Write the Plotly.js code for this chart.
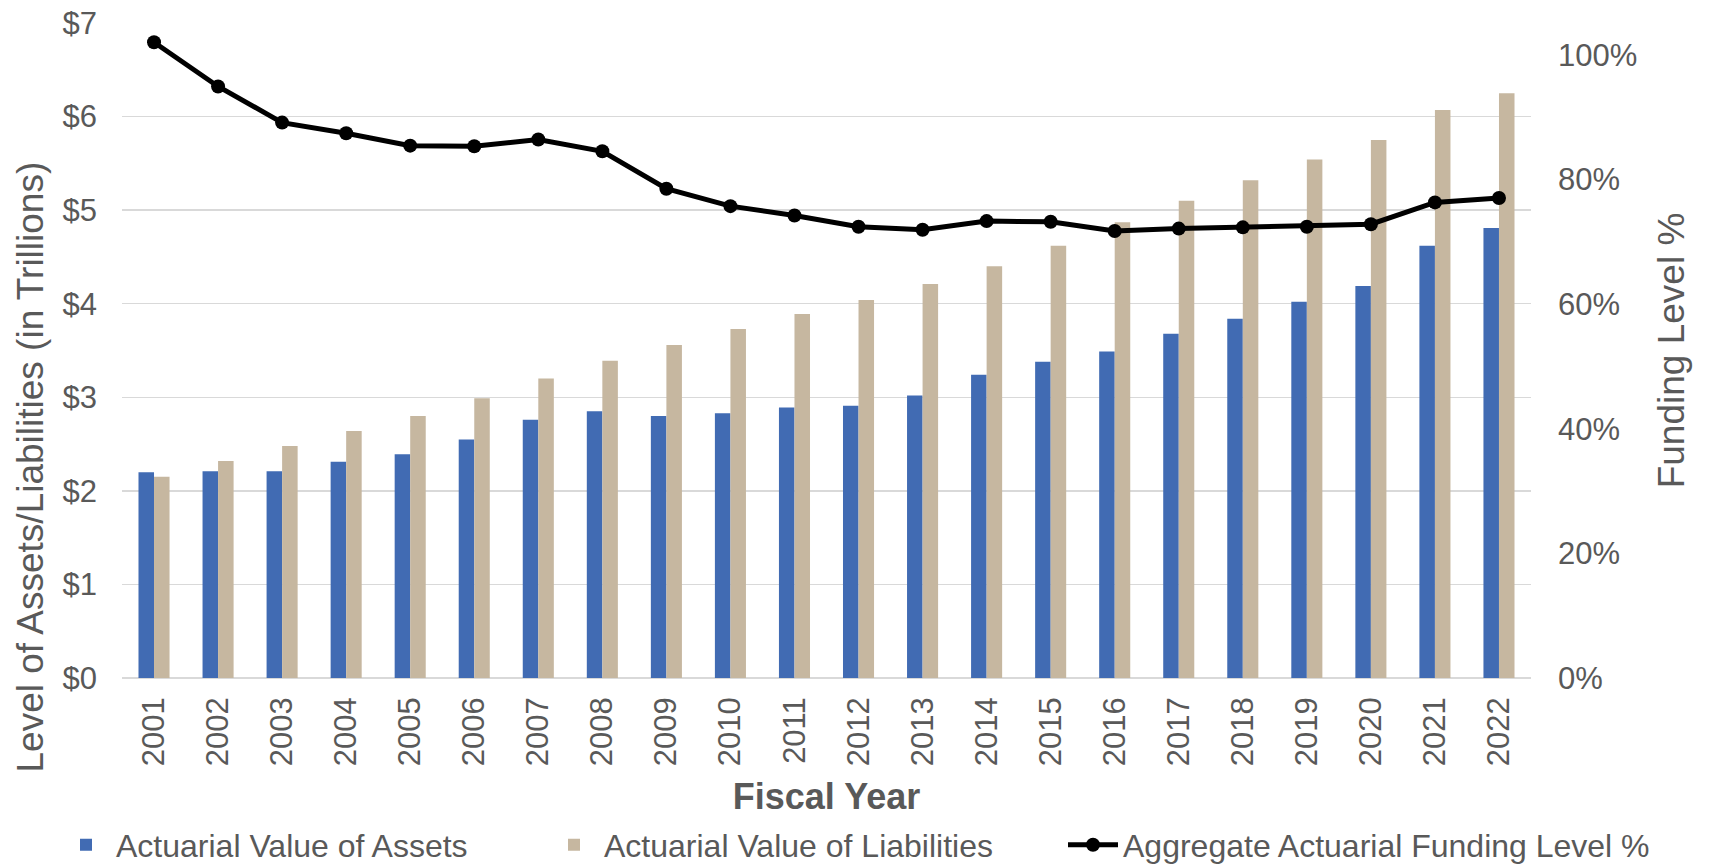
<!DOCTYPE html>
<html>
<head>
<meta charset="utf-8">
<script src="https://cdn.plot.ly/plotly-3.0.1.min.js"></script>
<style>
  html, body { margin: 0; padding: 0; background: #ffffff; }
  #chart { width: 1709px; height: 867px; }
</style>
</head>
<body>
<div id="chart"></div>
<script>
// ---- Data ----
const years = ['2001','2002','2003','2004','2005','2006','2007','2008','2009','2010','2011',
               '2012','2013','2014','2015','2016','2017','2018','2019','2020','2021','2022'];

// Actuarial Value of Assets, $ trillions
const assets = [2.20, 2.21, 2.21, 2.31, 2.39, 2.55, 2.76, 2.85, 2.80, 2.83, 2.89,
                2.91, 3.02, 3.24, 3.38, 3.49, 3.68, 3.84, 4.02, 4.19, 4.62, 4.81];

// Actuarial Value of Liabilities, $ trillions
const liabilities = [2.15, 2.32, 2.48, 2.64, 2.80, 2.99, 3.20, 3.39, 3.56, 3.73, 3.89,
                     4.04, 4.21, 4.40, 4.62, 4.87, 5.10, 5.32, 5.54, 5.75, 6.07, 6.25];

// Aggregate Actuarial Funding Level (fraction)
const fundingLevel = [1.020, 0.949, 0.891, 0.874, 0.854, 0.853, 0.864, 0.845, 0.785, 0.757, 0.742,
                      0.724, 0.719, 0.733, 0.732, 0.717, 0.721, 0.723, 0.724, 0.728, 0.763, 0.770];

const seriesNames = ['Actuarial Value of Assets', 'Actuarial Value of Liabilities',
                     'Aggregate Actuarial Funding Level %'];
const leftTitle = 'Level of Assets/Liabilities (in Trillions)';
const rightTitle = 'Funding Level %';
const xTitle = 'Fiscal Year';

// ---- Styling ----
const FONT = '"Liberation Sans", Arial, Helvetica, sans-serif';
const GREY = '#595959';
const GRID = '#d9d9d9';

const traces = [
  {
    type: 'bar', name: seriesNames[0], x: years, y: assets,
    marker: { color: '#416bb3' }, legend: 'legend'
  },
  {
    type: 'bar', name: seriesNames[1], x: years, y: liabilities,
    marker: { color: '#c6b7a0' }, legend: 'legend2'
  },
  {
    type: 'scatter', mode: 'lines+markers', name: seriesNames[2], x: years, y: fundingLevel,
    yaxis: 'y2', line: { color: '#000000', width: 5 },
    marker: { color: '#000000', size: 14 }, legend: 'legend3'
  }
];

// plot area in pixels: x 122..1531, y 23..678
const FW = 1709, FH = 867;
const L = 122, R = FW - 1531, T = 23, B = FH - 678;
const W = FW - L - R, H = FH - T - B;
const px = p => (p - L) / W;
const py = p => (FH - B - p) / H;
const cx = p => p / FW;
const cy = p => 1 - p / FH;

const legendCommon = {
  orientation: 'h', xref: 'container', yref: 'container',
  xanchor: 'left', yanchor: 'middle', y: cy(845),
  font: { family: FONT, size: 32, color: GREY },
  bgcolor: 'rgba(0,0,0,0)', itemwidth: 50, tracegroupgap: 0
};

const layout = {
  width: FW, height: FH,
  margin: { l: L, r: R, t: T, b: B, pad: 0, autoexpand: false },
  paper_bgcolor: '#ffffff', plot_bgcolor: '#ffffff',
  font: { family: FONT, size: 31, color: GREY },
  barmode: 'group', bargap: 0.515, bargroupgap: 0,
  showlegend: true,
  xaxis: {
    type: 'category', range: [-0.5, years.length - 0.5],
    tickangle: -90, showgrid: false, ticks: '', automargin: false,
    ticklabelstandoff: 12,
    tickfont: { family: FONT, size: 31, color: GREY },
    showline: false,
    title: { text: '<b>' + xTitle + '</b>', font: { family: FONT, size: 36, color: GREY }, standoff: 21 }
  },
  yaxis: {
    range: [0, 7], dtick: 1, tickprefix: '$', tickformat: 'd', automargin: false,
    showgrid: true, gridcolor: GRID, gridwidth: 1.5,
    zeroline: true, zerolinecolor: GRID, zerolinewidth: 1.5,
    ticks: '', ticklabelstandoff: 24,
    tickfont: { family: FONT, size: 31, color: GREY }
  },
  yaxis2: {
    overlaying: 'y', side: 'right', range: [0, 1.0508], dtick: 0.2, tickformat: '.0%',
    automargin: false,
    showgrid: false, zeroline: false, ticks: '', ticklabelstandoff: 26,
    tickfont: { family: FONT, size: 31, color: GREY },
    title: { text: rightTitle, font: { family: FONT, size: 37, color: GREY }, standoff: 21 }
  },
  legend: Object.assign({}, legendCommon, { x: cx(56) }),
  legend2: Object.assign({}, legendCommon, { x: cx(544) }),
  legend3: Object.assign({}, legendCommon, { x: cx(1063) }),
  annotations: [
    {
      text: leftTitle, xref: 'paper', yref: 'paper', x: px(30), y: py(467.5),
      xanchor: 'center', yanchor: 'middle', textangle: -90, showarrow: false,
      font: { family: FONT, size: 37, color: GREY }
    }
  ]
};

Plotly.newPlot('chart', traces, layout, { displayModeBar: false, staticPlot: true });
</script>
</body>
</html>
